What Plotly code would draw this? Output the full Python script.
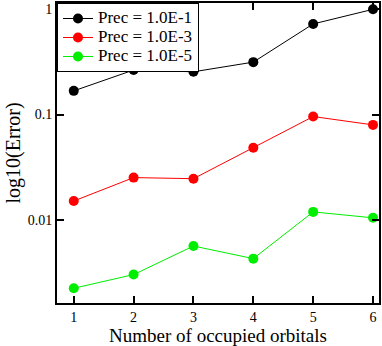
import plotly.graph_objects as go

orbitals = [1, 2, 3, 4, 5, 6]
prec_1e1 = [0.168, 0.265, 0.255, 0.315, 0.726, 1.0]
prec_1e3 = [0.0151, 0.0252, 0.0246, 0.0484, 0.0958, 0.0798]
prec_1e5 = [0.00224, 0.00302, 0.00564, 0.00428, 0.0119, 0.01045]
names = ["Prec = 1.0E-1", "Prec = 1.0E-3", "Prec = 1.0E-5"]
colors = ["#000000", "#ff0000", "#00ee00"]

fig = go.Figure()
for name, vals, c in zip(names, [prec_1e1, prec_1e3, prec_1e5], colors):
    fig.add_trace(go.Scatter(x=orbitals, y=vals, mode="lines+markers",
                             name="<span style='font-size:17px'>" + name + "</span>",
                             line=dict(color=c, width=1),
                             marker=dict(color=c, size=10),
                             cliponaxis=False))

font = "Liberation Serif, Times New Roman, serif"
fig.update_layout(
    width=382, height=346,
    margin=dict(l=57, r=2, t=1, b=43),
    paper_bgcolor="white", plot_bgcolor="white",
    font=dict(family=font, color="black", size=14),
    showlegend=True,
    legend=dict(x=0, y=1, xanchor="left", yanchor="top",
                bgcolor="white", bordercolor="black", borderwidth=1,
                font=dict(size=12, family=font), tracegroupgap=0,
                itemwidth=30),
    xaxis=dict(range=[0.72, 6.1], tickvals=orbitals, ticks="inside", ticklen=7,
               tickwidth=1.5, tickcolor="black", showline=True, linecolor="black",
               linewidth=2, mirror="ticks", showgrid=False, zeroline=False,
               title=dict(text="Number of occupied orbitals", font=dict(size=19), standoff=2),
               tickfont=dict(size=14)),
    yaxis=dict(type="log", range=[-2.79, 0.06], tickvals=[0.01, 0.1, 1],
               ticktext=["0.01", "0.1", "1"], ticks="inside", ticklen=7,
               tickwidth=1.5, tickcolor="black", showline=True, linecolor="black",
               linewidth=2, mirror="ticks", showgrid=False, zeroline=False,
               title=dict(text="log10(Error)", font=dict(size=20), standoff=2),
               tickfont=dict(size=14)),
)
fig.write_html("out.html", config={"displayModeBar": False},
               post_script="document.body.style.margin='0px';")
